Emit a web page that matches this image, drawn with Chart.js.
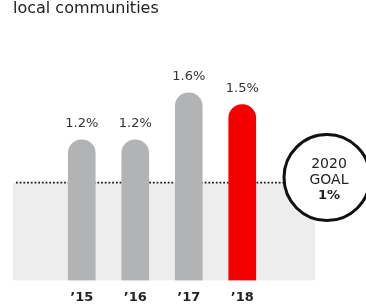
<!DOCTYPE html>
<html>
<head>
    <title>Local communities</title>
    <script src="https://cdn.jsdelivr.net/npm/chart.js"></script>
    <style>
        html, body { margin: 0; padding: 0; background: #fff; }
        #wrap { width: 366px; height: 304px; position: relative; }
    </style>
</head>
<body>
    <div id="wrap"><canvas id="givingChart" width="366" height="304"></canvas></div>
    <script>
        // Data
        const years = ['\u201915', '\u201916', '\u201917', '\u201918'];
        const percents = [1.2, 1.2, 1.6, 1.5];
        const barColors = ['#b2b3b5', '#b2b3b5', '#b2b3b5', '#f50000'];
        const goalLevel = 0.835;   // where the dotted goal line sits on the drawn scale
        const goalYear = '2020';
        const goalLabel = '1%';
        const titleText = 'local communities';

        const FONT = '"DejaVu Sans", sans-serif';

        // band, dotted goal line, circle badge, value labels and title
        const decorPlugin = {
            id: 'decor',
            beforeDatasetsDraw(chart) {
                const ctx = chart.ctx;
                const y = chart.scales.y;
                const yGoal = y.getPixelForValue(goalLevel);
                const yBase = y.getPixelForValue(0);
                ctx.save();
                ctx.fillStyle = '#ededed';
                ctx.fillRect(13, yGoal, 302, yBase - yGoal);
                ctx.strokeStyle = '#1a1a1a';
                ctx.lineWidth = 1.8;
                ctx.setLineDash([1.8, 1.9]);
                ctx.beginPath();
                ctx.moveTo(16, yGoal);
                ctx.lineTo(285, yGoal);
                ctx.stroke();
                ctx.restore();
            },
            afterDraw(chart) {
                const ctx = chart.ctx;
                const y = chart.scales.y;
                const yGoal = y.getPixelForValue(goalLevel);
                ctx.save();

                // title (cut at top like the reference)
                ctx.fillStyle = '#222';
                ctx.font = '16px ' + FONT;
                ctx.textAlign = 'left';
                ctx.textBaseline = 'alphabetic';
                ctx.fillText(titleText, 13, 13);

                // value labels
                ctx.fillStyle = '#333';
                ctx.font = '13px ' + FONT;
                ctx.textAlign = 'center';
                ctx.textBaseline = 'middle';
                chart.getDatasetMeta(0).data.forEach((bar, i) => {
                    ctx.fillText(percents[i].toFixed(1) + '%', bar.x, bar.y - 16);
                });

                // goal circle
                const cx = 327, cy = yGoal - 5;
                ctx.beginPath();
                ctx.arc(cx, cy, 43, 0, Math.PI * 2);
                ctx.fillStyle = '#fff';
                ctx.fill();
                ctx.lineWidth = 3;
                ctx.strokeStyle = '#111';
                ctx.stroke();
                ctx.fillStyle = '#222';
                ctx.font = '14px ' + FONT;
                ctx.fillText(goalYear, cx + 2, cy - 13);
                ctx.fillText('GOAL', cx + 2, cy + 3);
                ctx.font = 'bold 13px ' + FONT;
                ctx.fillText(goalLabel, cx + 2, cy + 18);
                ctx.restore();
            }
        };

        const ctx = document.getElementById('givingChart').getContext('2d');
        const chart = new Chart(ctx, {
            type: 'bar',
            data: {
                labels: years,
                datasets: [{
                    data: percents,
                    backgroundColor: barColors,
                    barThickness: 27,
                    borderRadius: { topLeft: 14, topRight: 14 },
                    borderSkipped: 'bottom'
                }]
            },
            options: {
                responsive: false,
                animation: false,
                layout: { padding: { left: 55, right: 97, top: 46, bottom: -10 } },
                plugins: {
                    legend: { display: false },
                    tooltip: { enabled: false }
                },
                scales: {
                    x: {
                        grid: { display: false, drawTicks: false },
                        border: { display: false },
                        ticks: {
                            color: '#222',
                            padding: 9,
                            font: { family: FONT, size: 13, weight: 'bold' }
                        }
                    },
                    y: {
                        display: false,
                        min: 0,
                        max: 2.0
                    }
                }
            },
            plugins: [decorPlugin]
        });
    </script>
</body>
</html>
